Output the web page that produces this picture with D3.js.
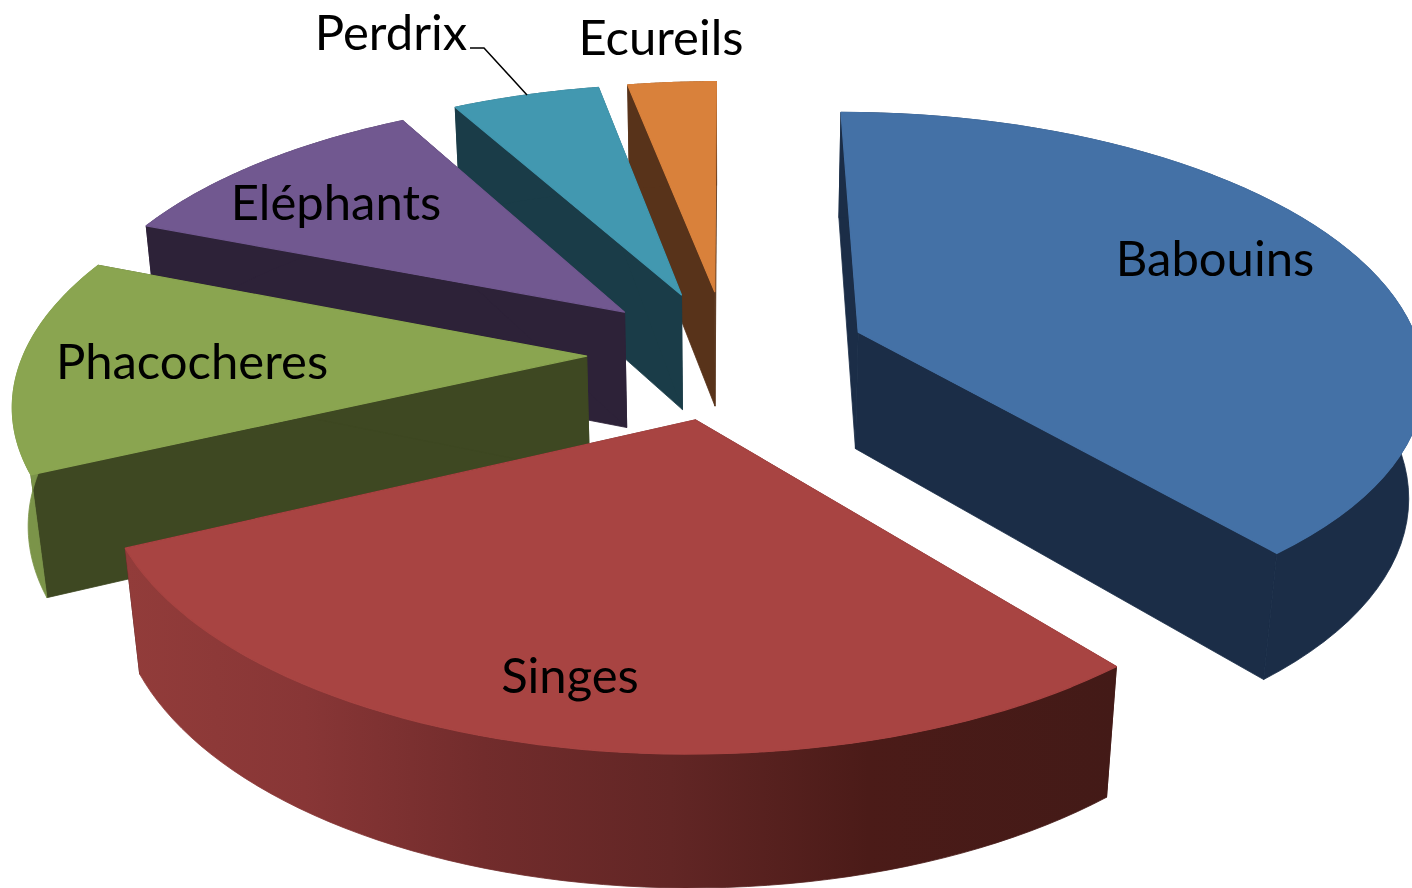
<!DOCTYPE html>
<html><head><meta charset="utf-8">
<script src="https://cdn.jsdelivr.net/npm/d3@7"></script>
<style>html,body{margin:0;padding:0;background:#fff;overflow:hidden}svg{display:block}</style>
</head><body><div id="chart"></div>
<script>
const categories = ["Babouins","Singes","Phacocheres","Eléphants","Perdrix","Ecureils"];
const values = [39,29,13,11,5,3];
const topColors = ["#4471a6","#a84442","#8aa550","#715890","#4298b0","#d9813b"];
const sideColors = ["#1b2d47","#431a17","#3e4822","#2d2238","#1a3c48","#58331a"];
const rimColors = ["#1b2d47","url(#singesRim)","#7b9449","#2d2238","#1a3c48","#58331a"];

const W=1412,H=888;
const P={cx:727.5,cy:354,A:563,B:260,k:0.154,D:120,m:0.022,explode:0.25};
const labelLayout={
 "Babouins":[1215,276],"Singes":[570,693],"Phacocheres":[192,379],
 "Eléphants":[336,220],"Perdrix":[391,50],"Ecureils":[661,55]};

function project(u,v,h){
  const s=1/(1-P.k*v+P.m*h);
  return [P.cx+P.A*u*s, P.cy+(P.B*v+P.D*h)*s];
}
const svg=d3.select("#chart").append("svg").attr("width",W).attr("height",H).attr("viewBox",`0 0 ${W} ${H}`);
const grad=svg.append("defs").append("linearGradient").attr("id","singesRim")
  .attr("gradientUnits","userSpaceOnUse").attr("x1",127).attr("x2",1116).attr("y1",0).attr("y2",0);
[[0,"#923c3a"],[0.18,"#883636"],[0.36,"#722c2c"],[0.55,"#622625"],[0.75,"#4b1b18"],[1,"#431a17"]]
  .forEach(([o,c])=>grad.append("stop").attr("offset",o).attr("stop-color",c));

const arcs=d3.pie().sort(null).value(d=>d)(values);
const line=d3.line();
function geom(a){
  const mid=(a.startAngle+a.endAngle)/2;
  const ox=P.explode*Math.sin(mid), oy=-P.explode*Math.cos(mid);
  const rim=h=>d3.range(0,61).map(i=>{
    const t=a.startAngle+(a.endAngle-a.startAngle)*i/60;
    return project(ox+Math.sin(t),oy-Math.cos(t),h);
  });
  return {apex:h=>project(ox,oy,h),rim};
}
// painted back to front: far slices first
const order=[5,4,3,2,1,0];
order.forEach(i=>{
  const g=geom(arcs[i]), grp=svg.append("g").attr("class","slice").attr("data-name",categories[i]);
  const top=g.rim(0), bot=g.rim(1), a0=g.apex(0), a1=g.apex(1);
  const face=(pts,fill,sw)=>grp.append("path").attr("d",line(pts)+"Z").attr("fill",fill)
     .attr("stroke",fill).attr("stroke-width",sw).attr("stroke-linejoin","round");
  face([a0,top[0],bot[0],a1],sideColors[i],0.8);
  face([a0,top[60],bot[60],a1],sideColors[i],0.8);
  face(top.concat(bot.slice().reverse()),rimColors[i],0.8);
  face([a0].concat(top),topColors[i],1.2);
});
svg.append("path").attr("d",line([[470,48],[484,48],[527,95]])).attr("fill","none").attr("stroke","#000").attr("stroke-width",1.5);
svg.selectAll("text.lab").data(categories).join("text").attr("class","lab")
  .attr("x",d=>labelLayout[d][0]).attr("y",d=>labelLayout[d][1])
  .attr("text-anchor","middle").attr("font-family","Lato").attr("font-size",49).attr("fill","#000").text(d=>d);
</script></body></html>
